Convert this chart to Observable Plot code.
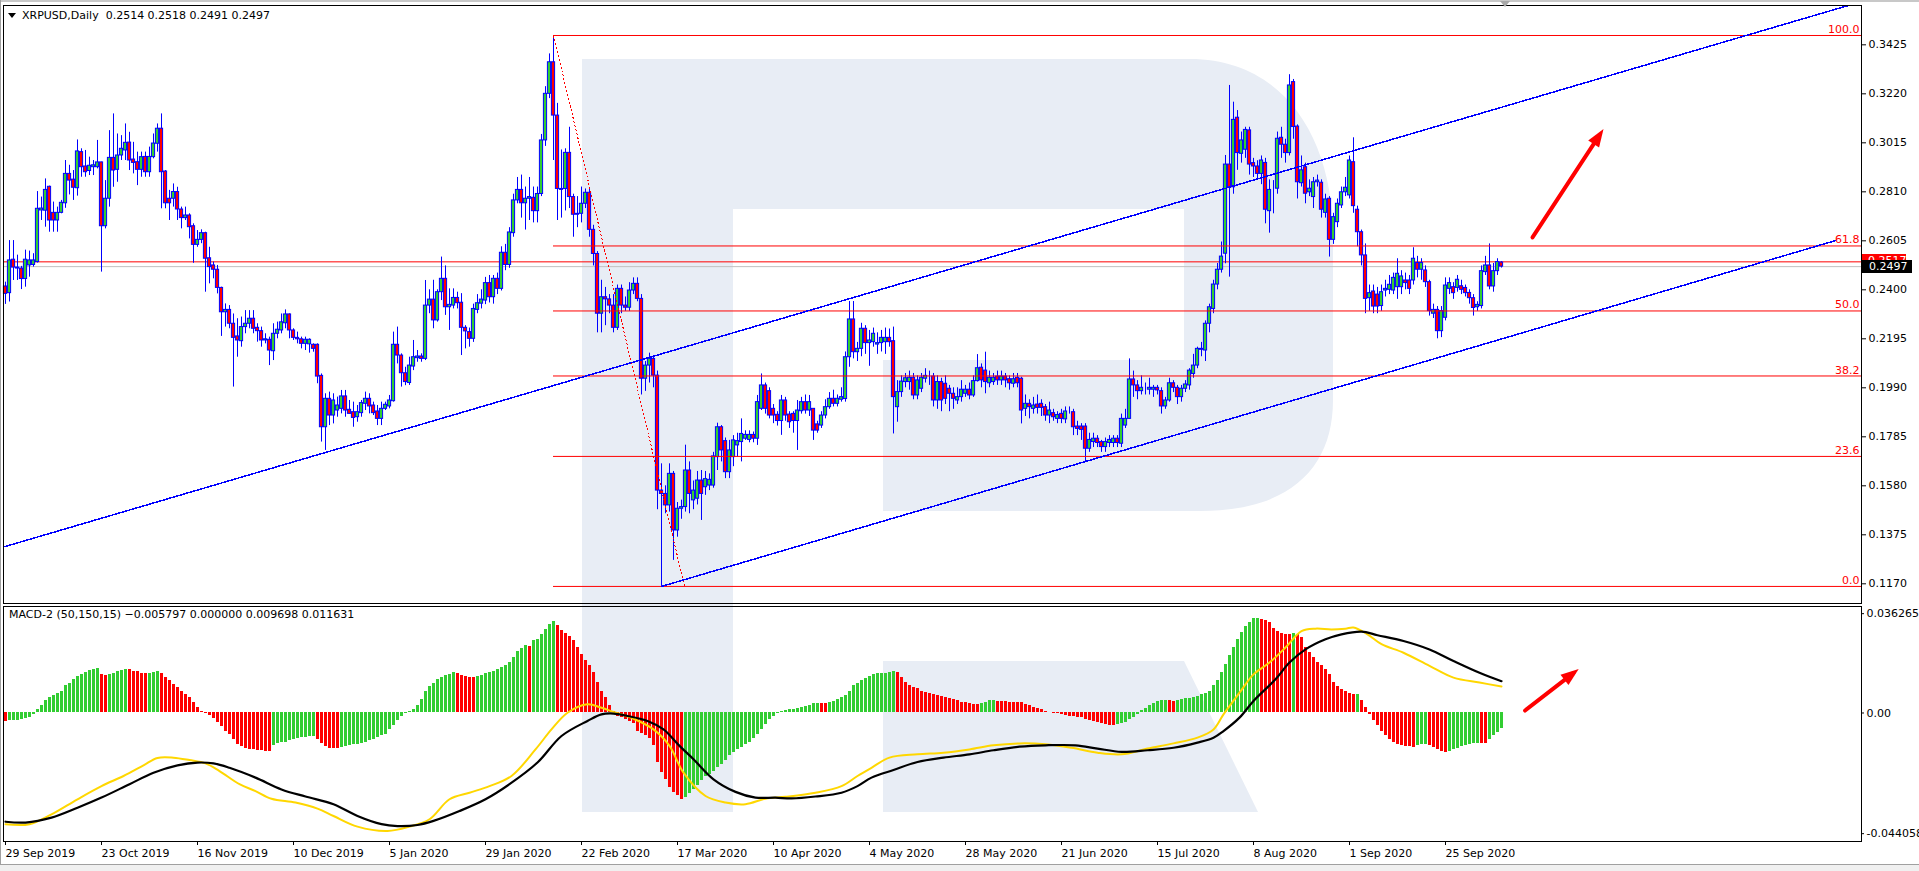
<!DOCTYPE html>
<html><head><meta charset="utf-8">
<script src="https://cdn.jsdelivr.net/npm/d3@7"></script>
<script src="https://cdn.jsdelivr.net/npm/@observablehq/plot@0.6"></script>
<style>
html,body{margin:0;padding:0;background:#fff;}
#root{position:relative;width:1919px;height:871px;overflow:hidden;background:#fff;font-family:"DejaVu Sans",sans-serif;font-size:11px;}
.lbl{position:absolute;white-space:pre;font:11px "DejaVu Sans",sans-serif;line-height:13px;color:#000;}
.box{position:absolute;white-space:pre;font:11px "DejaVu Sans",sans-serif;line-height:13px;color:#fff;box-sizing:border-box;}
.plot{position:absolute;left:0;}
</style></head><body><div id="root"></div>
<script>
// ---------- data ----------
const symbol = "XRPUSD", timeframe = "Daily";
const open = [
.2414,.2386,.2526,.2493,.2489,.2445,.2502,.2504,.2516,.2732,
.2731,.2831,.2722,.2690,.2722,.2762,.2885,.2861,.2825,.2976,
.2916,.2897,.2913,.2913,.2933,.2666,.2781,.2952,.2902,.2962,
.2983,.3016,.2945,.2934,.2902,.2956,.2892,.2955,.3011,.3074,
.2895,.2781,.2781,.2809,.2736,.2700,.2711,.2666,.2588,.2609,
.2637,.2532,.2502,.2484,.2408,.2306,.2316,.2258,.2205,.2185,
.2244,.2258,.2279,.2241,.2227,.2188,.2191,.2143,.2216,.2230,
.2260,.2297,.2230,.2199,.2193,.2174,.2172,.2170,.2170,.2040,
.1825,.1944,.1874,.1895,.1902,.1954,.1898,.1888,.1867,.1884,
.1923,.1944,.1916,.1891,.1860,.1902,.1912,.1934,.2170,.2125,
.2051,.2010,.2079,.2114,.2121,.2111,.2334,.2359,.2272,.2390,
.2446,.2327,.2334,.2366,.2346,.2241,.2223,.2195,.2316,.2342,
.2355,.2428,.2369,.2446,.2404,.2555,.2504,.2637,.2774,.2818,
.2762,.2781,.2785,.2729,.2801,.3025,.3220,.3352,.3129,.2822,
.2822,.2973,.2788,.2718,.2718,.2760,.2806,.2651,.2550,.2300,
.2369,.2360,.2334,.2241,.2404,.2334,.2325,.2397,.2425,.2362,
.2028,.2083,.2111,.2041,.1560,.1546,.1498,.1630,.1393,.1484,
.1491,.1644,.1519,.1526,.1602,.1574,.1581,.1581,.1700,.1825,
.1767,.1637,.1700,.1749,.1763,.1777,.1772,.1793,.1777,.1902,
.2000,.1976,.1902,.1877,.1851,.1937,.1878,.1881,.1851,.1892,
.1930,.1895,.1902,.1837,.1832,.1874,.1909,.1944,.1923,.1940,
.1943,.2118,.2276,.2139,.2153,.2237,.2177,.2181,.2171,.2177,
.2181,.2199,.2185,.1909,.1972,.2014,.2014,.2032,.1958,.1986,
.2028,.2037,.2037,.1937,.2014,.2007,.1986,.1965,.1937,.1951,
.1965,.1982,.1958,.2018,.2074,.2062,.2009,.2014,.2037,.2021,
.2037,.2026,.2007,.2032,.2028,.1902,.1923,.1902,.1920,.1923,
.1909,.1874,.1884,.1860,.1881,.1858,.1895,.1888,.1828,.1828,
.1828,.1735,.1763,.1777,.1763,.1742,.1759,.1759,.1777,.1756,
.1832,.1860,.2025,.2000,.1976,.1990,.1982,.1982,.1990,.1976,
.1912,.1937,.2009,.1990,.1951,.1986,.2000,.2048,.2083,.2153,
.2146,.2258,.2320,.2422,.2484,.2551,.2924,.2829,.3120,.2969,
.2986,.3067,.2930,.2916,.2885,.2931,.2729,.2823,.2823,.3036,
.3007,.2972,.3269,.3083,.2846,.2913,.2808,.2788,.2850,.2848,
.2722,.2781,.2609,.2683,.2753,.2808,.2795,.2934,.2735,.2641,
.2544,.2365,.2393,.2380,.2332,.2397,.2400,.2397,.2411,.2411,
.2439,.2439,.2439,.2512,.2484,.2481,.2432,.2300,.2316,.2227,
.2283,.2404,.2411,.2408,.2415,.2408,.2387,.2365,.2327,.2332,
.2474,.2502,.2414,.2478,.2514];
const high = [
.2432,.2606,.2606,.2545,.2498,.2566,.2562,.2551,.2811,.2788,
.2864,.2834,.2767,.2746,.2774,.2941,.2921,.2899,.3027,.2990,
.2983,.2955,.2941,.3025,.2934,.2857,.3066,.3136,.3052,.3045,
.3094,.3059,.3017,.2976,.2976,.2976,.2997,.3052,.3094,.3136,
.2899,.2816,.2843,.2829,.2746,.2746,.2718,.2676,.2648,.2651,
.2641,.2578,.2516,.2502,.2411,.2341,.2334,.2299,.2279,.2286,
.2313,.2313,.2313,.2258,.2244,.2216,.2202,.2258,.2265,.2299,
.2316,.2299,.2237,.2223,.2202,.2202,.2195,.2174,.2174,.2048,
.1965,.1972,.1965,.1951,.1979,.1979,.1937,.1930,.1916,.1937,
.1972,.1965,.1930,.1916,.1930,.1930,.1958,.2223,.2244,.2132,
.2076,.2118,.2188,.2146,.2132,.2439,.2400,.2440,.2400,.2537,
.2500,.2404,.2404,.2390,.2384,.2250,.2240,.2340,.2380,.2400,
.2452,.2460,.2460,.2470,.2580,.2590,.2660,.2800,.2870,.2880,
.2830,.2870,.2830,.2830,.3050,.3250,.3387,.3464,.3180,.2985,
.2990,.3080,.2800,.2790,.2830,.2822,.2822,.2670,.2560,.2440,
.2410,.2380,.2380,.2420,.2420,.2370,.2430,.2450,.2450,.2380,
.2100,.2135,.2125,.2060,.1672,.1580,.1672,.1640,.1510,.1520,
.1750,.1680,.1600,.1640,.1644,.1640,.1630,.1720,.1842,.1832,
.1780,.1770,.1790,.1800,.1860,.1810,.1810,.1805,.1958,.2048,
.2010,.1990,.1920,.1890,.1958,.1950,.1890,.1890,.1937,.1950,
.1960,.1958,.1902,.1850,.1890,.1940,.1970,.1980,.1960,.1990,
.2140,.2351,.2351,.2180,.2260,.2250,.2230,.2240,.2220,.2230,
.2240,.2236,.2244,.2020,.2040,.2050,.2060,.2050,.2040,.2050,
.2070,.2060,.2050,.2040,.2030,.2040,.2000,.1990,.1990,.2020,
.2000,.2010,.2040,.2129,.2090,.2139,.2060,.2050,.2060,.2060,
.2050,.2040,.2050,.2050,.2034,.1960,.1940,.1950,.1960,.1940,
.1920,.1930,.1900,.1890,.1900,.1910,.1910,.1900,.1850,.1840,
.1840,.1800,.1800,.1790,.1770,.1780,.1790,.1790,.1790,.1880,
.1900,.2111,.2060,.2020,.2040,.2010,.2030,.2000,.2000,.1990,
.1950,.2030,.2020,.2000,.2000,.2020,.2070,.2130,.2160,.2180,
.2270,.2340,.2440,.2510,.2600,.2962,.3255,.3185,.3150,.3060,
.3080,.3080,.2950,.2940,.2960,.2950,.2860,.2857,.3060,.3080,
.3030,.3300,.3280,.3090,.2960,.2930,.2860,.2870,.2880,.2860,
.2800,.2790,.2720,.2780,.2830,.2870,.2960,.3036,.2750,.2650,
.2592,.2420,.2420,.2410,.2420,.2440,.2460,.2470,.2530,.2480,
.2470,.2460,.2576,.2540,.2530,.2500,.2440,.2340,.2330,.2330,
.2450,.2450,.2430,.2460,.2440,.2420,.2400,.2380,.2350,.2500,
.2540,.2592,.2510,.2530,.2518];
const low = [
.2339,.2349,.2439,.2439,.2401,.2411,.2453,.2495,.2512,.2690,
.2662,.2641,.2641,.2641,.2718,.2741,.2797,.2774,.2792,.2871,
.2871,.2878,.2878,.2906,.2474,.2655,.2746,.2829,.2850,.2941,
.2941,.2899,.2885,.2836,.2871,.2871,.2871,.2948,.2976,.2739,
.2739,.2690,.2746,.2690,.2655,.2690,.2613,.2511,.2578,.2593,
.2390,.2425,.2446,.2383,.2205,.2244,.2237,.1993,.2118,.2160,
.2216,.2237,.2216,.2181,.2160,.2174,.2083,.2104,.2195,.2216,
.2237,.2195,.2188,.2174,.2153,.2146,.2135,.2139,.2007,.1763,
.1728,.1832,.1839,.1867,.1881,.1867,.1881,.1825,.1846,.1867,
.1895,.1881,.1874,.1832,.1832,.1895,.1902,.1930,.2090,.1993,
.1999,.2000,.2062,.2097,.2097,.2104,.2300,.2237,.2265,.2355,
.2293,.2230,.2320,.2320,.2125,.2153,.2160,.2180,.2300,.2320,
.2338,.2345,.2340,.2380,.2395,.2480,.2490,.2620,.2760,.2700,
.2650,.2690,.2680,.2680,.2790,.3000,.3200,.2941,.2690,.2700,
.2730,.2740,.2620,.2660,.2680,.2740,.2620,.2500,.2220,.2220,
.2250,.2300,.2220,.2230,.2300,.2310,.2310,.2380,.2350,.1960,
.1975,.2010,.1990,.1480,.1159,.1463,.1470,.1268,.1365,.1440,
.1470,.1463,.1480,.1500,.1435,.1540,.1560,.1570,.1644,.1680,
.1610,.1610,.1660,.1700,.1680,.1770,.1760,.1760,.1749,.1895,
.1880,.1860,.1840,.1830,.1791,.1850,.1820,.1800,.1728,.1880,
.1880,.1870,.1770,.1800,.1820,.1860,.1900,.1910,.1910,.1930,
.1930,.2076,.2111,.2100,.2120,.2130,.2080,.2160,.2130,.2140,
.2130,.2160,.1797,.1846,.1950,.1990,.1980,.1940,.1940,.1970,
.2010,.2000,.1910,.1900,.1890,.1920,.1890,.1900,.1920,.1930,
.1950,.1940,.1950,.2014,.1990,.1965,.1990,.2000,.2000,.2000,
.1990,.1980,.1990,.1990,.1839,.1870,.1860,.1880,.1880,.1870,
.1850,.1840,.1850,.1840,.1840,.1840,.1880,.1790,.1790,.1770,
.1680,.1720,.1740,.1740,.1720,.1720,.1740,.1740,.1740,.1740,
.1820,.1860,.1950,.1940,.1960,.1960,.1960,.1950,.1960,.1880,
.1900,.1930,.1970,.1920,.1930,.1970,.1980,.2030,.2070,.2120,
.2100,.2220,.2300,.2400,.2470,.2509,.2453,.2800,.2900,.2930,
.2950,.2880,.2870,.2860,.2840,.2676,.2637,.2718,.2800,.2950,
.2930,.2960,.3030,.2780,.2830,.2760,.2790,.2740,.2830,.2700,
.2700,.2537,.2590,.2660,.2740,.2790,.2780,.2720,.2580,.2500,
.2300,.2310,.2300,.2300,.2310,.2370,.2380,.2380,.2360,.2380,
.2400,.2380,.2420,.2450,.2440,.2410,.2290,.2280,.2195,.2200,
.2270,.2380,.2360,.2390,.2380,.2370,.2340,.2290,.2310,.2320,
.2460,.2400,.2390,.2460,.2491];
const close = [
.2383,.2523,.2493,.2489,.2445,.2526,.2523,.2523,.2739,.2740,
.2818,.2690,.2690,.2722,.2764,.2885,.2857,.2827,.2979,.2913,
.2892,.2919,.2921,.2933,.2666,.2781,.2952,.2899,.2962,.2990,
.3015,.2941,.2931,.2902,.2955,.2892,.2956,.3012,.3074,.2892,
.2762,.2762,.2809,.2736,.2700,.2711,.2662,.2588,.2609,.2637,
.2530,.2495,.2484,.2408,.2306,.2316,.2258,.2199,.2188,.2244,
.2258,.2279,.2237,.2227,.2188,.2193,.2146,.2216,.2233,.2264,
.2297,.2230,.2199,.2193,.2174,.2191,.2191,.2153,.2037,.1825,
.1944,.1874,.1937,.1916,.1954,.1895,.1881,.1864,.1888,.1926,
.1944,.1912,.1884,.1860,.1902,.1919,.1937,.2170,.2125,.2051,
.2014,.2083,.2118,.2121,.2111,.2334,.2359,.2272,.2390,.2446,
.2327,.2337,.2366,.2344,.2241,.2226,.2195,.2320,.2344,.2359,
.2428,.2369,.2446,.2404,.2555,.2504,.2640,.2774,.2818,.2762,
.2781,.2788,.2729,.2801,.3025,.3220,.3352,.3129,.2822,.2818,
.2973,.2788,.2714,.2714,.2760,.2806,.2651,.2550,.2300,.2369,
.2360,.2334,.2241,.2404,.2334,.2325,.2397,.2425,.2362,.2028,
.2083,.2111,.2041,.1560,.1546,.1498,.1630,.1393,.1484,.1491,
.1644,.1546,.1560,.1602,.1546,.1608,.1605,.1703,.1825,.1728,
.1637,.1728,.1770,.1767,.1797,.1793,.1793,.1777,.1930,.2000,
.1902,.1874,.1874,.1851,.1937,.1874,.1846,.1851,.1895,.1930,
.1895,.1930,.1811,.1811,.1874,.1909,.1944,.1923,.1944,.1951,
.2118,.2276,.2139,.2153,.2237,.2177,.2188,.2216,.2177,.2199,
.2199,.2181,.1951,.1972,.2016,.2030,.2032,.1958,.2021,.2032,
.2040,.2037,.1937,.2014,.1937,.1944,.1965,.1944,.1951,.1982,
.1982,.1958,.2018,.2072,.2021,.2014,.2032,.2032,.2021,.2037,
.2021,.2009,.2026,.2009,.1895,.1923,.1909,.1916,.1906,.1906,
.1874,.1895,.1867,.1876,.1860,.1891,.1895,.1825,.1818,.1814,
.1735,.1772,.1777,.1759,.1742,.1763,.1772,.1777,.1759,.1860,
.1860,.2025,.2000,.1976,.1990,.1990,.1990,.1990,.1979,.1912,
.1937,.2009,.1990,.1951,.1986,.2004,.2062,.2083,.2153,.2149,
.2258,.2327,.2422,.2484,.2539,.2924,.2829,.3111,.2972,.3025,
.3069,.2924,.2916,.2885,.2941,.2735,.2818,.2823,.3032,.3007,
.2972,.3255,.3081,.2850,.2900,.2802,.2823,.2850,.2857,.2735,
.2778,.2609,.2704,.2760,.2808,.2827,.2941,.2750,.2641,.2544,
.2362,.2386,.2330,.2330,.2390,.2404,.2421,.2450,.2467,.2456,
.2428,.2404,.2530,.2484,.2512,.2432,.2311,.2316,.2227,.2311,
.2418,.2428,.2386,.2442,.2400,.2386,.2365,.2324,.2337,.2478,
.2502,.2414,.2478,.2516,.2497];
const priceTicks = [0.1170,0.1375,0.1580,0.1785,0.1990,0.2195,0.2400,0.2605,0.2810,0.3015,0.3220,0.3425];
const dateTickIdx = [0,24,48,72,96,120,144,168,192,216,240,264,288,312,336,360];
const dateTickLabels = ["29 Sep 2019","23 Oct 2019","16 Nov 2019","10 Dec 2019","5 Jan 2020","29 Jan 2020","22 Feb 2020","17 Mar 2020","10 Apr 2020","4 May 2020","28 May 2020","21 Jun 2020","15 Jul 2020","8 Aug 2020","1 Sep 2020","25 Sep 2020"];
const askPrice = 0.2517, bidPrice = 0.2497;
// Fibonacci retracement (anchor bars and prices)
const fibLevels = [0, 23.6, 38.2, 50.0, 61.8, 100.0];
const fibLowPrice = 0.1159, fibHighPrice = 0.3464, fibStartIdx = 137;
const fibTrend = {i1: 137, p1: 0.3464, i2: 169.75, p2: 0.1161};
// channel trendlines (anchor points: bar index, price)
const channelUpper = [{i: -0.5, p: 0.1324}, {i: 460.8, p: 0.3590}];
const channelLower = [{i: 164, p: 0.1159}, {i: 457.5, p: 0.2606}];
const priceArrow = {i1: 381.75, p1: 0.2619, i2: 399.5, p2: 0.3073};
// MACD-2 (50,150,15)
const macdParams = "50,150,15";
const macdHeaderVals = [-0.005797, 0.000000, 0.009698, 0.011631];
const hist = [
-.0030,-.0029,-.0028,-.0027,-.0023,-.0019,-.0015,-.0005,.0013,.0026,
.0044,.0056,.0065,.0072,.0080,.0099,.0109,.0123,.0135,.0140,
.0147,.0155,.0159,.0162,.0141,.0138,.0141,.0145,.0150,.0156,
.0159,.0158,.0153,.0150,.0145,.0144,.0145,.0147,.0150,.0144,
.0129,.0117,.0105,.0092,.0080,.0068,.0056,.0038,.0019,.0007,
-.0001,-.0009,-.0021,-.0035,-.0050,-.0066,-.0078,-.0096,-.0114,-.0123,
-.0130,-.0134,-.0135,-.0136,-.0137,-.0139,-.0141,-.0120,-.0111,-.0108,
-.0106,-.0100,-.0096,-.0094,-.0090,-.0088,-.0086,-.0085,-.0096,-.0112,
-.0123,-.0129,-.0130,-.0131,-.0127,-.0124,-.0120,-.0116,-.0114,-.0111,
-.0106,-.0101,-.0096,-.0091,-.0084,-.0077,-.0062,-.0047,-.0029,-.0013,
-.0001,.0005,.0013,.0026,.0050,.0077,.0096,.0108,.0123,.0131,
.0138,.0142,.0147,.0144,.0138,.0133,.0129,.0128,.0133,.0138,
.0144,.0148,.0153,.0159,.0167,.0174,.0186,.0202,.0223,.0237,
.0245,.0242,.0263,.0269,.0287,.0305,.0324,.0333,.0318,.0303,
.0291,.0279,.0265,.0239,.0214,.0190,.0172,.0147,.0111,.0080,
.0056,.0026,.0004,-.0011,-.0018,-.0023,-.0030,-.0038,-.0066,-.0074,
-.0082,-.0094,-.0120,-.0181,-.0218,-.0242,-.0273,-.0289,-.0303,-.0315,
-.0310,-.0293,-.0279,-.0264,-.0248,-.0232,-.0224,-.0214,-.0200,-.0187,
-.0172,-.0157,-.0145,-.0135,-.0125,-.0116,-.0106,-.0094,-.0079,-.0062,
-.0041,-.0023,-.0011,-.0001,.0004,.0008,.0011,.0013,.0015,.0019,
.0023,.0028,.0034,.0035,.0034,.0033,.0038,.0043,.0050,.0057,
.0065,.0080,.0099,.0108,.0117,.0125,.0135,.0140,.0144,.0145,
.0146,.0147,.0150,.0147,.0129,.0113,.0101,.0094,.0089,.0080,
.0074,.0071,.0068,.0065,.0060,.0056,.0052,.0049,.0044,.0040,
.0038,.0034,.0032,.0031,.0035,.0040,.0044,.0045,.0043,.0042,
.0041,.0040,.0039,.0038,.0037,.0032,.0027,.0019,.0015,.0011,
.0005,.0001,-.0001,-.0002,-.0005,-.0010,-.0012,-.0013,-.0015,-.0017,
-.0023,-.0027,-.0030,-.0035,-.0040,-.0043,-.0044,-.0045,-.0043,-.0039,
-.0033,-.0023,-.0015,-.0004,.0009,.0018,.0028,.0035,.0041,.0045,
.0047,.0044,.0043,.0047,.0051,.0052,.0053,.0056,.0061,.0067,
.0072,.0080,.0099,.0120,.0147,.0178,.0211,.0239,.0269,.0293,
.0315,.0332,.0344,.0346,.0343,.0338,.0330,.0308,.0296,.0290,
.0287,.0286,.0289,.0286,.0275,.0239,.0220,.0202,.0186,.0172,
.0157,.0141,.0113,.0096,.0086,.0079,.0072,.0066,.0068,.0044,
.0019,-.0005,-.0029,-.0045,-.0066,-.0084,-.0096,-.0108,-.0116,-.0120,
-.0123,-.0124,-.0125,-.0119,-.0116,-.0114,-.0118,-.0127,-.0133,-.0140,
-.0145,-.0142,-.0135,-.0128,-.0122,-.0119,-.0116,-.0112,-.0110,-.0111,
-.0113,-.0097,-.0084,-.0071,-.0058];
// MACD line (gold) sampled [bar index, value]
const goldIdx = [0,6,11.5,18,24,29.5,34.5,38,42,46,50,53.5,58.5,62.5,66.5,72.5,78,82,88,95.5,101,106,111,116,121,126.5,132.5,136.5,140.5,145.5,149,152,157,162,166,169.5,175,180,185,190,195,202.5,209,213,216.5,221,228,234.5,241,247,253.5,260,266.5,273,279,285.5,292,298,302,304.5,308.5,312,316,320,324,327.5,331.5,335,337,340.5,344,349.5,356,362,368.5,374];
const goldVal = [-.0406,-.0406,-.0370,-.0315,-.0267,-.0230,-.0191,-.0164,-.0163,-.0172,-.0184,-.0212,-.0260,-.0285,-.0313,-.0327,-.0349,-.0376,-.0415,-.0431,-.0415,-.0388,-.0315,-.0291,-.0267,-.0230,-.0133,-.0060,.0001,.0032,.0019,.0004,-.0021,-.0060,-.0120,-.0218,-.0303,-.0327,-.0333,-.0313,-.0306,-.0291,-.0267,-.0230,-.0200,-.0163,-.0151,-.0145,-.0133,-.0118,-.0111,-.0114,-.0127,-.0145,-.0151,-.0130,-.0111,-.0090,-.0060,-.0005,.0074,.0141,.0184,.0239,.0299,.0308,.0305,.0308,.0312,.0287,.0251,.0220,.0172,.0129,.0111,.0097];
// signal line (black) sampled [bar index, value]
const blackIdx = [0,5,11.5,18,24,31,37,43,48,52,56,62.5,69,75,82,88,94,98,103,107,113.5,120,126,133,139,145.5,149,152,155.5,160.5,164.5,168.5,172,177,182.5,187.5,192.5,196.5,202.5,209,213,216.5,222,228,234.5,241,247,253.5,260,267.5,273,279,285.5,292,298,302,304.5,308.5,312,317.5,321,325,330,334,339,343,349.5,356,362,368.5,374];
const blackVal = [-.0397,-.0400,-.0382,-.0346,-.0309,-.0260,-.0218,-.0191,-.0181,-.0184,-.0200,-.0236,-.0279,-.0305,-.0333,-.0376,-.0406,-.0413,-.0409,-.0394,-.0358,-.0315,-.0260,-.0181,-.0084,-.0029,-.0005,-.0002,-.0011,-.0029,-.0060,-.0120,-.0169,-.0242,-.0288,-.0309,-.0309,-.0312,-.0305,-.0291,-.0267,-.0236,-.0208,-.0179,-.0163,-.0151,-.0136,-.0123,-.0118,-.0118,-.0130,-.0142,-.0136,-.0127,-.0108,-.0090,-.0066,-.0017,.0044,.0123,.0184,.0232,.0269,.0287,.0297,.0284,.0263,.0232,.0190,.0147,.0116];
const macdTicks = [0.036265, 0, -0.044058];
const macdTickLabels = ["0.036265", "0.00", "-0.044058"];
const macdArrow = {i1: 379.9, v1: 0.0009, i2: 393.3, v2: 0.0161};

// ---------- layout constants ----------
const W = 1919, LEFT = 3, RIGHT_EDGE = 1861;
const xDomain = [-0.5, 464];
const topY = {top: 5, bottom: 603, domain: [0.10876, 0.35895]};
const botY = {top: 606, bottom: 841, domain: [-0.04692, 0.03888]};
const BLUE = "#0000ff", RED = "#ff0000", GREEN = "#32cd32", GOLD = "#ffd700";
const FONT = "DejaVu Sans";

const root = document.getElementById("root");

// watermark (decorative background logo)
root.insertAdjacentHTML("beforeend", `<svg width="${W}" height="871" style="position:absolute;left:0;top:0">
<g fill="#e8edf5"><rect x="582" y="59" width="151" height="753"/>
<path d="M733 59 H1190 C1285 59 1333 140 1333 235 V400 C1333 468 1290 511 1200 511 H883 V360 H1184 V209 H733 Z"/>
<path d="M883 661 H1184 L1258 812 H883 Z"/></g></svg>`);

const candles = open.map((o, i) => ({i, open: o, high: high[i], low: low[i], close: close[i]}));
const histData = hist.map((v, i) => ({i, v, up: i > 0 && v > hist[i - 1]}));
const gold = goldIdx.map((i, k) => ({i, v: goldVal[k]}));
const black = blackIdx.map((i, k) => ({i, v: blackVal[k]}));
const fibData = fibLevels.map(l => ({level: l, price: fibLowPrice + (fibHighPrice - fibLowPrice) * l / 100, label: l.toFixed(1)}));

const kx = (RIGHT_EDGE - LEFT) / (xDomain[1] - xDomain[0]);
const arrowHead = {draw(ctx) { ctx.moveTo(0, 0); ctx.lineTo(6.5, 18); ctx.lineTo(-6.5, 18); ctx.closePath(); }};
function arrowMarks(a, ky, keyY1, keyY2) {
  const y1 = a[keyY1], y2 = a[keyY2];
  const dxp = (a.i2 - a.i1) * kx, dyp = -(y2 - y1) * ky;
  const ang = Math.atan2(dxp, -dyp) * 180 / Math.PI;
  const f = 0.9;
  return [
    Plot.link([a], {x1: "i1", y1: keyY1, x2: d => d.i1 + f * (d.i2 - d.i1), y2: d => y1 + f * (y2 - y1), stroke: RED, strokeWidth: 4, strokeLinecap: "round"}),
    Plot.dot([a], {x: "i2", y: keyY2, symbol: arrowHead, fill: RED, stroke: "none", rotate: ang, r: 5})
  ];
}

const kyTop = (topY.bottom - topY.top) / (topY.domain[1] - topY.domain[0]);
const kyBot = (botY.bottom - botY.top) / (botY.domain[1] - botY.domain[0]);

const topChart = Plot.plot({
  width: W, height: topY.bottom + 1,
  marginLeft: LEFT, marginRight: W - RIGHT_EDGE, marginTop: topY.top, marginBottom: 1,
  x: {domain: xDomain, axis: null},
  y: {domain: topY.domain},
  style: {background: "transparent", fontFamily: FONT, fontSize: "11px", overflow: "visible"},
  marks: [
    Plot.ruleY([bidPrice], {stroke: "#c0c0c0"}),
    Plot.ruleY([askPrice], {stroke: RED}),
    Plot.ruleX(candles, {x: "i", y1: "low", y2: "high", stroke: BLUE, strokeWidth: 1}),
    Plot.rect(candles, {x1: d => d.i - 0.4, x2: d => d.i + 0.4, y1: "open", y2: "close",
      fill: d => d.close > d.open ? GREEN : d.close < d.open ? RED : "#000", stroke: BLUE, strokeWidth: 1}),
    Plot.ruleY(fibData, {y: "price", x1: fibStartIdx, x2: xDomain[1], stroke: RED}),
    Plot.text(fibData, {x: xDomain[1], y: "price", text: "label", textAnchor: "end", dx: -2, dy: -6, fill: RED}),
    Plot.link([fibTrend], {x1: "i1", y1: "p1", x2: "i2", y2: "p2", stroke: RED, strokeDasharray: "2,2", shapeRendering: "crispEdges"}),
    Plot.line(channelUpper, {x: "i", y: "p", stroke: BLUE, clip: true, shapeRendering: "crispEdges"}),
    Plot.line(channelLower, {x: "i", y: "p", stroke: BLUE, clip: true, shapeRendering: "crispEdges"}),
    ...arrowMarks(priceArrow, kyTop, "p1", "p2"),
    Plot.frame({stroke: "#000"}),
    Plot.axisY({anchor: "right", ticks: priceTicks, tickFormat: d3.format(".4f"), tickSize: 4, tickPadding: 3, label: null})
  ]
});
topChart.classList.add("plot");
topChart.style.top = "0px";
root.appendChild(topChart);

const botChart = Plot.plot({
  width: W, height: 871 - botY.top,
  marginLeft: LEFT, marginRight: W - RIGHT_EDGE, marginTop: 0, marginBottom: 871 - botY.bottom,
  x: {domain: xDomain},
  y: {domain: botY.domain},
  style: {background: "transparent", fontFamily: FONT, fontSize: "11px", overflow: "visible"},
  marks: [
    Plot.rectY(histData, {x1: d => d.i - 0.375, x2: d => d.i + 0.375, y: "v", fill: d => d.up ? GREEN : RED, shapeRendering: "crispEdges"}),
    Plot.line(gold, {x: "i", y: "v", stroke: GOLD, strokeWidth: 2, curve: "catmull-rom"}),
    Plot.line(black, {x: "i", y: "v", stroke: "#000", strokeWidth: 2.2, curve: "catmull-rom"}),
    ...arrowMarks(macdArrow, kyBot, "v1", "v2"),
    Plot.frame({stroke: "#000"}),
    Plot.axisY({anchor: "right", ticks: macdTicks, tickFormat: d => macdTickLabels[macdTicks.indexOf(d)], tickSize: 2, tickPadding: 3, label: null}),
    Plot.axisX({anchor: "bottom", ticks: dateTickIdx, tickFormat: d => dateTickLabels[dateTickIdx.indexOf(d)], tickSize: 4, tickPadding: 4, textAnchor: "start", label: null})
  ]
});
botChart.classList.add("plot");
botChart.style.top = botY.top + "px";
root.appendChild(botChart);

// ---------- chrome and text overlays ----------
const ys = topChart.scale("y"), xs = topChart.scale("x");
const f4 = d3.format(".4f"), f6 = d3.format(".6f");
const last = candles[candles.length - 1];
root.insertAdjacentHTML("beforeend", `
<div style="position:absolute;left:0;top:0;width:${W}px;height:2px;background:#c8c8c8"></div>
<div style="position:absolute;left:0;top:0;width:1px;height:864px;background:#a0a0a0"></div>
<div style="position:absolute;left:8px;top:13px;width:0;height:0;border-left:4px solid transparent;border-right:4px solid transparent;border-top:5px solid #000"></div>
<div class="lbl" style="left:22px;top:9px">${symbol},${timeframe}  ${f4(last.open)} ${f4(last.high)} ${f4(last.low)} ${f4(last.close)}</div>
<div class="lbl" style="left:9px;top:608px">MACD-2 (${macdParams}) ${macdHeaderVals.map(f6).join(" ")}</div>
<div class="box" style="left:1862px;top:${(ys.apply(askPrice) - 7).toFixed(1)}px;width:44px;height:13px;background:${RED};padding-left:6px">${f4(askPrice)}</div>
<div class="box" style="left:1862px;top:${(ys.apply(bidPrice) - 6).toFixed(1)}px;width:50px;height:13px;background:#000;padding-left:7px">${f4(bidPrice)}</div>
<div style="position:absolute;left:${(xs.apply(375) - 5).toFixed(1)}px;top:1px;width:0;height:0;border-left:5px solid transparent;border-right:5px solid transparent;border-top:6px solid #a8a8a8"></div>
<div style="position:absolute;left:0;top:864px;width:${W}px;height:7px;background:#f0f0f0;border-top:1px solid #a0a0a0"></div>
`);
</script></body></html>
